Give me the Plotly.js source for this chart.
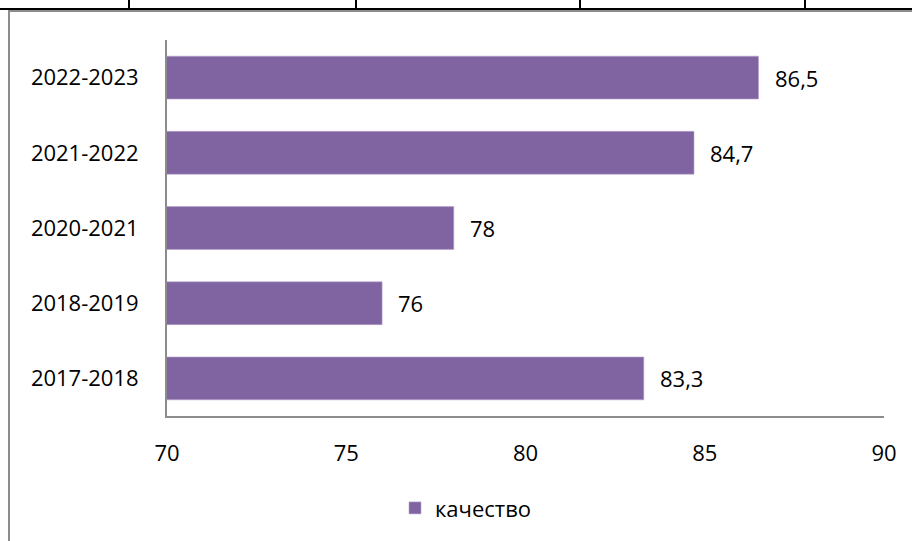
<!DOCTYPE html>
<html>
<head>
<meta charset="utf-8">
<script src="https://cdn.plot.ly/plotly-3.0.1.min.js"></script>
<style>
  html, body { margin: 0; padding: 0; background: #fff; }
  #wrap { position: relative; width: 912px; height: 541px; overflow: hidden; }
  #chart { position: absolute; left: 0; top: 0; width: 912px; height: 541px; }
  .blk { position: absolute; background: #000; }
  .gry { position: absolute; background: #8c8c8c; }
</style>
</head>
<body>
<div id="wrap">
  <div class="blk" style="left:0;top:8px;width:912px;height:2px;"></div>
  <div class="blk" style="left:128px;top:0;width:2px;height:9px;"></div>
  <div class="blk" style="left:355px;top:0;width:2px;height:9px;"></div>
  <div class="blk" style="left:579px;top:0;width:2px;height:9px;"></div>
  <div class="blk" style="left:804px;top:0;width:2px;height:9px;"></div>
  <div class="gry" style="left:8px;top:10px;width:904px;height:2px;"></div>
  <div class="gry" style="left:8px;top:10px;width:2px;height:531px;"></div>
  <div id="chart"></div>
</div>
<script>
var categories = ['2017-2018', '2018-2019', '2020-2021', '2021-2022', '2022-2023'];
var values = [83.3, 76, 78, 84.7, 86.5];
var seriesName = 'качество';
var xTicks = [70, 75, 80, 85, 90];

var FONT = '"Open Sans", "Noto Sans", sans-serif';
var purple = '#8064A2';

var labels = values.map(function (v) { return String(v).replace('.', ','); });

var trace = {
  type: 'bar',
  orientation: 'h',
  x: values,
  y: categories,
  name: seriesName,
  marker: { color: purple, line: { color: '#b7a6cc', width: 0.6 } },
  hoverinfo: 'none',
  showlegend: true
};

var annotations = values.map(function (v, i) {
  return {
    x: v, y: categories[i], xref: 'x', yref: 'y',
    text: labels[i], showarrow: false,
    xanchor: 'left', yanchor: 'middle', xshift: 14,
    font: { family: FONT, size: 22, color: '#000' }
  };
});

var layout = {
  width: 912, height: 541,
  margin: { l: 167, r: 28, t: 40, b: 125, pad: 0 },
  paper_bgcolor: 'rgba(0,0,0,0)',
  plot_bgcolor: 'rgba(0,0,0,0)',
  separators: ',.',
  bargap: 0.43,
  font: { family: FONT, size: 22, color: '#000' },
  xaxis: {
    range: [70, 90],
    tickvals: xTicks,
    ticktext: xTicks.map(String),
    showgrid: false, zeroline: false,
    showline: true, linecolor: '#8c8c8c', linewidth: 2,
    ticks: '', ticklabelstandoff: 17,
    tickfont: { family: FONT, size: 22, color: '#000' },
    fixedrange: true
  },
  yaxis: {
    type: 'category',
    categoryorder: 'array', categoryarray: categories,
    showgrid: false, zeroline: false,
    showline: true, linecolor: '#8c8c8c', linewidth: 2,
    ticks: '', ticklabelstandoff: 22,
    tickfont: { family: FONT, size: 22, color: '#000' },
    fixedrange: true
  },
  showlegend: true,
  legend: {
    orientation: 'h',
    x: 0.318, xanchor: 'left', xref: 'paper',
    y: -0.245, yanchor: 'middle',
    font: { family: FONT, size: 22, color: '#000' },
    bgcolor: 'rgba(0,0,0,0)',
    itemwidth: 30
  },
  annotations: annotations
};

Plotly.newPlot('chart', [trace], layout, { displayModeBar: false, staticPlot: true });
</script>
</body>
</html>
